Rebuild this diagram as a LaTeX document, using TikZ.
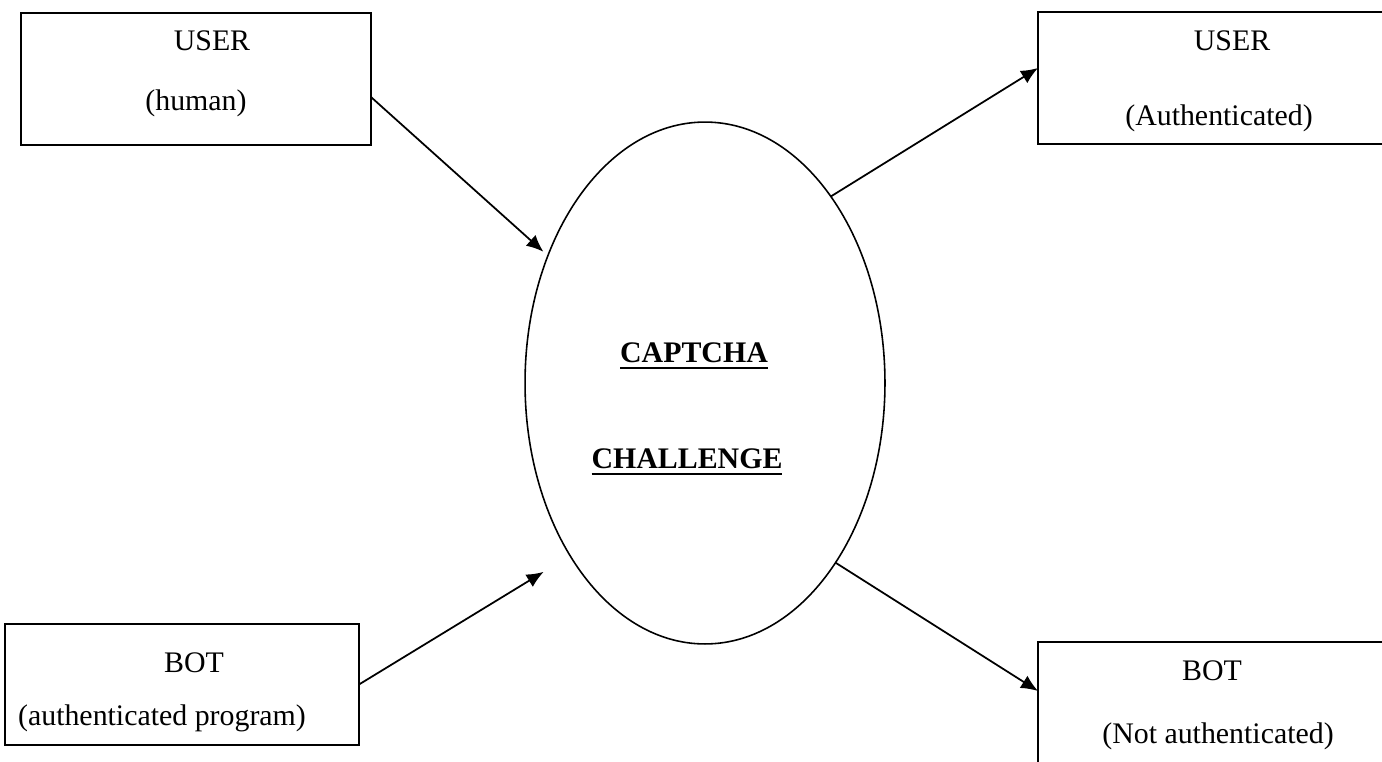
\documentclass[tikz,border=0pt]{standalone}
\usepackage{fontspec}
\setmainfont{Liberation Serif}
\usepackage{tikz}
\usetikzlibrary{calc, positioning, shapes.geometric, arrows.meta}

\newcommand{\ulword}[1]{\vtop{\hbox{#1}\kern2.8pt\hrule height 1.1pt}}

\begin{document}
\begin{tikzpicture}[x=0.02cm,y=-0.02cm,>={Latex[length=3.4mm,width=2.9mm]},
                    font=\fontsize{17}{20}\selectfont,
                    box node/.style={rectangle,draw,line width=1pt,inner sep=0pt,outer sep=0pt},
                    oval node/.style={ellipse,draw,line width=0.9pt,inner sep=0pt,outer sep=0pt,
                                      minimum width=7.2cm,minimum height=10.44cm},
                    label node/.style={anchor=base,inner sep=0pt}]

  \clip (0,0) rectangle (1382,761);

  \node[box node,minimum width=7cm,minimum height=2.64cm] (user) at (196,79) {};
  \node[box node,minimum width=7.08cm,minimum height=2.64cm] (auth) at (1215,78) {};
  \node[box node,minimum width=7.08cm,minimum height=2.42cm] (bot) at (182,684.5) {};
  \node[box node,minimum width=7.08cm,minimum height=2.96cm] (notauth) at (1215,716) {};
  \node[oval node] (cap) at (705,383) {};

  \node[label node] (user1) at (212,50) {USER};
  \node[label node] (user2) at (196,110) {(human)};
  \node[label node] (auth1) at (1232,50) {USER};
  \node[label node] (auth2) at (1219,125) {(Authenticated)};
  \node[label node] (bot1) at (194,672) {BOT};
  \node[label node] (bot2) at (162,725) {(authenticated program)};
  \node[label node] (notauth1) at (1212,680) {BOT};
  \node[label node] (notauth2) at (1218,743) {(Not authenticated)};
  \node[label node] (cap1) at (694,362) {\bfseries\ulword{CAPTCHA}};
  \node[label node] (cap2) at (687,468) {\bfseries\ulword{CHALLENGE}};

  \path[line width=1pt,->]
  ($(user.east)+(0,18)$) edge[shorten >=0.12cm] (cap.141)
  (bot.east) edge[shorten >=0.62cm] (cap.232);

  \path[line width=1pt,->]
  (cap.56) edge ($(auth.west)+(0,-10)$)
  (cap.-54) edge ($(notauth.west)+(0,-25)$);

\end{tikzpicture}
\end{document}
